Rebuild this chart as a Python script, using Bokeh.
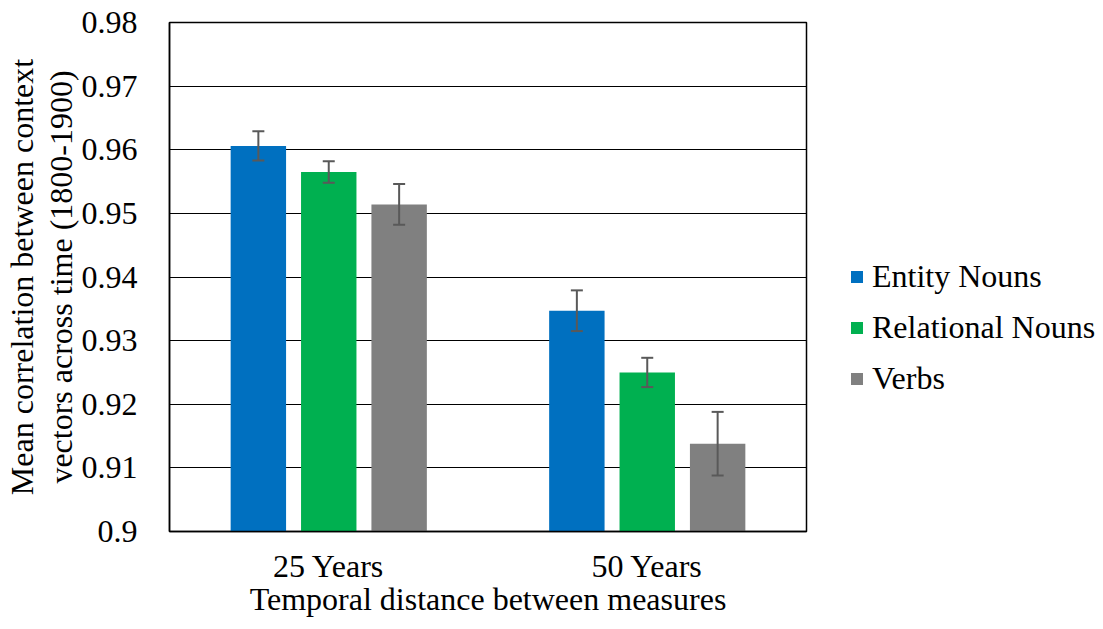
from bokeh.plotting import figure
from bokeh.models import (ColumnDataSource, Range1d, FactorRange, FixedTicker, Whisker,
                          TeeHead, Legend, LegendItem)
from bokeh.transform import dodge
from bokeh.embed import file_html
from bokeh.resources import INLINE

categories = ["25 Years", "50 Years"]
series = ["Entity Nouns", "Relational Nouns", "Verbs"]
entity = [0.9606, 0.9347]
relational = [0.9565, 0.9250]
verbs = [0.9514, 0.9138]
entity_err = [0.0023, 0.0032]
relational_err = [0.0017, 0.0023]
verbs_err = [0.0032, 0.0050]
y_ticks = [0.90, 0.91, 0.92, 0.93, 0.94, 0.95, 0.96, 0.97, 0.98]
y_tick_labels = ["0.9", "0.91", "0.92", "0.93", "0.94", "0.95", "0.96", "0.97", "0.98"]

colors = ["#0070C0", "#00B050", "#808080"]
offsets = [-0.221, 0.0, 0.221]
FONT = "Liberation Serif"
FS = "32px"

p = figure(x_range=FactorRange(*categories, range_padding=0), y_range=Range1d(0.9, 0.98),
           frame_width=637, frame_height=509, min_border_left=162, min_border_right=10,
           min_border_top=22, min_border_bottom=70, output_backend="svg",
           toolbar_location=None, background_fill_color="white", border_fill_color="white")

renderers = []
for vals, errs, col, off in zip([entity, relational, verbs],
                                [entity_err, relational_err, verbs_err], colors, offsets):
    src = ColumnDataSource(dict(x=categories, top=vals,
                                upper=[v + e for v, e in zip(vals, errs)],
                                lower=[v - e for v, e in zip(vals, errs)]))
    r = p.vbar(x=dodge("x", off, range=p.x_range), top="top", bottom=0.9, width=0.174,
               source=src, fill_color=col, line_color=None)
    renderers.append(r)
    w = Whisker(base=dodge("x", off, range=p.x_range), upper="upper", lower="lower", source=src,
                line_color="#595959", line_width=2, level="overlay",
                upper_head=TeeHead(size=12, line_color="#595959", line_width=2),
                lower_head=TeeHead(size=12, line_color="#595959", line_width=2))
    p.add_layout(w)

yax = p.yaxis[0]
xax = p.xaxis[0]
yax.ticker = FixedTicker(ticks=y_ticks)
yax.major_label_overrides = {t: l for t, l in zip(y_ticks, y_tick_labels)}
p.ygrid.ticker = FixedTicker(ticks=y_ticks)
p.ygrid.grid_line_color = "black"
p.ygrid.grid_line_width = 1
p.xgrid.grid_line_color = None

for ax in [xax, yax]:
    ax.major_label_text_font = FONT
    ax.major_label_text_font_size = FS
    ax.major_label_text_color = "black"
    ax.axis_label_text_font = FONT
    ax.axis_label_text_font_size = FS
    ax.axis_label_text_font_style = "normal"
    ax.axis_label_text_color = "black"
    ax.major_tick_line_color = None
    ax.minor_tick_line_color = None
    ax.axis_line_color = "black"
    ax.axis_line_width = 1.5

yax.major_label_standoff = 26
yax.axis_label = "Mean correlation between context\nvectors across time (1800-1900)"
yax.axis_label_standoff = 0
yax.axis_label_text_line_height = 1.08
xax.major_label_standoff = 10
xax.axis_label = "Temporal distance between measures"
xax.axis_label_standoff = -6

p.outline_line_color = "black"
p.outline_line_width = 1.5

legend = Legend(items=[LegendItem(label=s, renderers=[r]) for s, r in zip(series, renderers)],
                location=(43, 127), orientation="vertical",
                label_text_font=FONT, label_text_font_size=FS,
                label_text_color="black",
                glyph_width=15, glyph_height=15, label_standoff=8, label_height=51, spacing=0,
                padding=0, margin=0, border_line_color=None, background_fill_alpha=0)
p.add_layout(legend, "right")

open("out.html", "w").write(file_html(p, INLINE))
